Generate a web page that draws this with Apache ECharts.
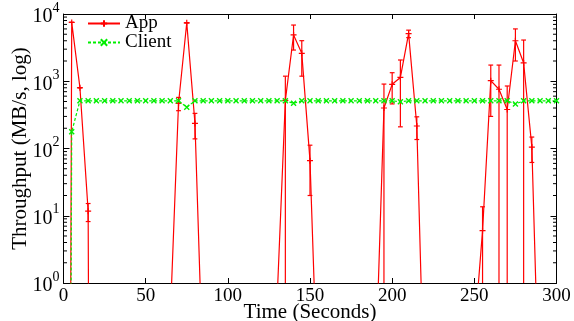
<!DOCTYPE html>
<html>
<head>
<meta charset="utf-8">
<script src="https://cdn.jsdelivr.net/npm/echarts@6/dist/echarts.min.js"></script>
<style>
  html, body { margin: 0; padding: 0; background: #fff; }
  #chart { width: 574px; height: 321px; }
</style>
</head>
<body>
<div id="chart"></div>
<script>
// Sample times (seconds) for both series
const appTime = [0, 5, 10, 15, 20, 25, 30, 35, 40, 45, 50, 55, 60, 65, 70, 75, 80, 85, 90, 95,
  100, 105, 110, 115, 120, 125, 130, 135, 140, 145, 150, 155, 160, 165, 170, 175, 180, 185, 190, 195,
  200, 205, 210, 215, 220, 225, 230, 235, 240, 245, 250, 255, 260, 265, 270, 275, 280, 285, 290, 295, 300];

// App throughput, MB/s (mean per sample)
const appRate = [0, 7500, 800, 11.7, 0, 0, 0, 0, 0, 0, 0, 0, 0, 0.31, 470, 7400, 236, 0.035, 0, 0,
  0, 0, 0, 0, 0, 0, 0.58, 520, 4880, 2600, 66, 0.015, 0, 0, 0, 0, 0, 0, 0.059, 400,
  900, 1140, 5100, 216, 0.007, 0, 0, 0, 0, 0, 0.17, 6, 1020, 760, 380, 4000, 1870, 105, 0.006, 0, 0];

// App spread (+/- MB/s); null where no error bar is drawn
const appErr = [null, 0, 0, 3.5, null, null, null, null, null, null, null, null, null, null, 105, 0, 97, null, null, null,
  null, null, null, null, null, null, null, 670, 1970, 1410, 46, null, null, null, null, null, null, null, null, 508,
  440, 930, 650, 80, null, null, null, null, null, null, null, 7.6, 720, 980, 470, 2000, 2230, 43, null, null, null];

const clientTime = appTime;

// Client throughput, MB/s
const clientRate = [0, 177, 512, 512, 512, 512, 512, 512, 512, 512, 512, 512, 512, 512, 512, 410, 512, 512, 512, 512,
  512, 512, 512, 512, 512, 512, 512, 512, 470, 512, 512, 512, 512, 512, 512, 512, 512, 512, 512, 512,
  512, 495, 512, 512, 512, 512, 512, 512, 512, 512, 512, 512, 512, 512, 512, 458, 512, 512, 512, 512, 512];

const timeRange = [0, 300];
const timeStep = 50;
const rateRange = [1, 10000];

const FONT = '"Liberation Serif", "DejaVu Serif", serif';
const RED = '#ff0000';
const GREEN = '#00ee00';

// A log axis has no place for 0: zero readings are parked far below the
// floor so the line falls straight off the bottom edge.
const BELOW_AXIS = 1e-30;
const onLog = v => (v > 0 ? v : BELOW_AXIS);

// Minor tick values 2..9 in every decade of the rate axis
const minorTicks = [];
for (let d = rateRange[0]; d < rateRange[1]; d *= 10) {
  for (let k = 2; k <= 9; k++) minorTicks.push([0, k * d]);
}

const errData = [];
appTime.forEach((t, i) => {
  if (appErr[i] !== null) errData.push([t, appRate[i], appErr[i]]);
});

const plusSymbol = 'path://M0,5L10,5M5,0L5,10';
const crossSymbol = 'path://M0,0L10,10M10,0L0,10';

const chart = echarts.init(document.getElementById('chart'), null, { renderer: 'canvas' });

const axisLineStyle = { show: true, onZero: false, lineStyle: { color: '#000', width: 1 } };

chart.setOption({
  animation: false,
  backgroundColor: '#fff',
  grid: { left: 63.5, right: 17.5, top: 14, bottom: 38, containLabel: false, outerBoundsMode: 'none' },
  legend: {
    data: ['App', 'Client'],
    orient: 'vertical',
    left: 87,
    top: 14,
    padding: 0,
    itemGap: 0,
    itemWidth: 32,
    itemHeight: 8,
    selectedMode: false,
    textStyle: { fontFamily: FONT, fontSize: 19, color: '#000', lineHeight: 15 }
  },
  xAxis: [
    {
      type: 'value', min: timeRange[0], max: timeRange[1], interval: timeStep, position: 'bottom',
      axisLine: axisLineStyle,
      axisTick: { show: true, inside: true, length: 5, lineStyle: { color: '#000', width: 1 } },
      axisLabel: { show: true, fontFamily: FONT, fontSize: 19, color: '#000', margin: 4 },
      splitLine: { show: false },
      name: 'Time (Seconds)', nameLocation: 'middle', nameGap: 19, nameMoveOverlap: false,
      nameTextStyle: { fontFamily: FONT, fontSize: 21, color: '#000' }
    },
    {
      type: 'value', min: timeRange[0], max: timeRange[1], interval: timeStep, position: 'top',
      axisLine: axisLineStyle,
      axisTick: { show: true, inside: true, length: 5, lineStyle: { color: '#000', width: 1 } },
      axisLabel: { show: false },
      splitLine: { show: false }
    }
  ],
  yAxis: [
    {
      type: 'log', logBase: 10, min: rateRange[0], max: rateRange[1], position: 'left',
      axisLine: axisLineStyle,
      axisTick: { show: true, inside: true, length: 6, lineStyle: { color: '#000', width: 1 } },
      axisLabel: {
        show: true, margin: 4,
        formatter: v => '{b|10}{s|' + Math.round(Math.log10(v)) + '}',
        rich: {
          b: { fontFamily: FONT, fontSize: 20, color: '#000', lineHeight: 26, verticalAlign: 'bottom' },
          s: { fontFamily: FONT, fontSize: 14, color: '#000', lineHeight: 14, verticalAlign: 'top' }
        }
      },
      splitLine: { show: false },
      name: 'Throughput (MB/s, log)', nameLocation: 'middle', nameGap: 33, nameRotate: 90, nameMoveOverlap: false,
      nameTextStyle: { fontFamily: FONT, fontSize: 21, color: '#000' }
    },
    {
      type: 'log', logBase: 10, min: rateRange[0], max: rateRange[1], position: 'right',
      axisLine: axisLineStyle,
      axisTick: { show: true, inside: true, length: 6, lineStyle: { color: '#000', width: 1 } },
      axisLabel: { show: false },
      splitLine: { show: false }
    }
  ],
  series: [
    {
      // minor ticks on both vertical edges of the frame
      type: 'custom', name: 'minor ticks', silent: true, xAxisIndex: 0, yAxisIndex: 0, z: 1,
      data: minorTicks,
      renderItem: (params, api) => {
        const cs = params.coordSys;
        const y = api.coord([0, api.value(1)])[1];
        const len = 3.5;
        const st = { stroke: '#000', lineWidth: 1 };
        return {
          type: 'group',
          children: [
            { type: 'line', shape: { x1: cs.x, y1: y, x2: cs.x + len, y2: y }, style: st },
            { type: 'line', shape: { x1: cs.x + cs.width, y1: y, x2: cs.x + cs.width - len, y2: y }, style: st }
          ]
        };
      }
    },
    {
      // App error bars
      type: 'custom', name: 'App spread', silent: true, xAxisIndex: 0, yAxisIndex: 0, z: 3,
      data: errData,
      renderItem: (params, api) => {
        const cs = params.coordSys;
        const top = cs.y, bottom = cs.y + cs.height;
        const t = api.value(0), m = api.value(1), e = api.value(2);
        const hi = api.coord([t, m + e]);
        const x = hi[0];
        const yHi = Math.max(hi[1], top);
        const hasLo = (m - e) > 0;
        const yLoRaw = hasLo ? api.coord([t, m - e])[1] : Infinity;
        const yLo = Math.min(yLoRaw, bottom);
        const st = { stroke: RED, lineWidth: 1.2 };
        const w = 2.4;
        const children = [
          { type: 'line', shape: { x1: x, y1: yHi, x2: x, y2: yLo }, style: st }
        ];
        if (hi[1] >= top) children.push({ type: 'line', shape: { x1: x - w, y1: hi[1], x2: x + w, y2: hi[1] }, style: st });
        if (hasLo && yLoRaw <= bottom) children.push({ type: 'line', shape: { x1: x - w, y1: yLoRaw, x2: x + w, y2: yLoRaw }, style: st });
        return { type: 'group', children };
      }
    },
    {
      type: 'line', name: 'App', xAxisIndex: 0, yAxisIndex: 0, z: 4,
      data: appTime.map((t, i) => [t, onLog(appRate[i])]),
      symbol: plusSymbol, symbolSize: 6, showSymbol: true, showAllSymbol: true,
      lineStyle: { color: RED, width: 1.2 },
      itemStyle: { color: RED, borderColor: RED, borderWidth: 1.2 },
      clip: true
    },
    {
      type: 'line', name: 'Client', xAxisIndex: 0, yAxisIndex: 0, z: 5,
      data: clientTime.map((t, i) => [t, onLog(clientRate[i])]),
      symbol: crossSymbol, symbolSize: 5, showSymbol: true, showAllSymbol: true,
      lineStyle: { color: GREEN, width: 1.2, type: [3, 2] },
      itemStyle: { color: GREEN, borderColor: GREEN, borderWidth: 1.4 },
      clip: true
    }
  ]
});
</script>
</body>
</html>
